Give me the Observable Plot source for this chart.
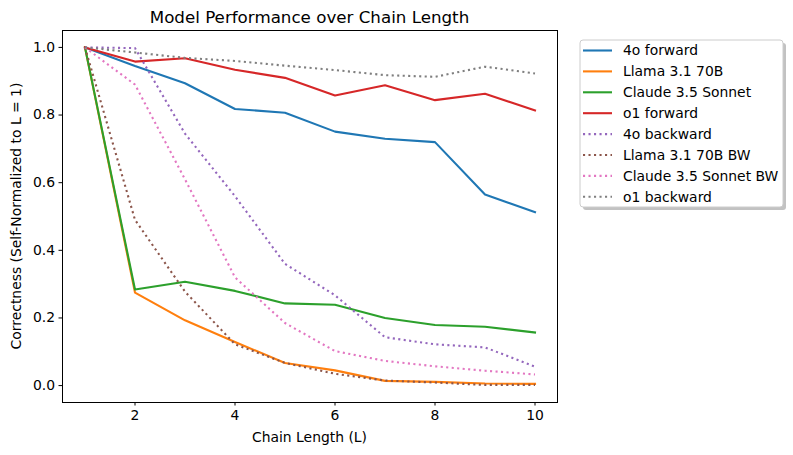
<!DOCTYPE html>
<html><head><meta charset="utf-8">
<script src="https://cdn.jsdelivr.net/npm/d3@7"></script>
<script src="https://cdn.jsdelivr.net/npm/@observablehq/plot@0.6"></script>
<style>body{margin:0;background:#fff;font-family:"DejaVu Sans",sans-serif;}</style>
</head><body><div id="chart"></div>
<script>
const chainLength = [1, 2, 3, 4, 5, 6, 7, 8, 9, 10];
const seriesNames = ["4o forward", "Llama 3.1 70B", "Claude 3.5 Sonnet", "o1 forward", "4o backward", "Llama 3.1 70B BW", "Claude 3.5 Sonnet BW", "o1 backward"];
const gpt4oForward = [1.0, 0.945, 0.894, 0.818, 0.807, 0.751, 0.730, 0.720, 0.565, 0.513];
const llamaForward = [1.0, 0.275, 0.193, 0.129, 0.067, 0.045, 0.014, 0.011, 0.006, 0.005];
const claudeForward = [1.0, 0.284, 0.307, 0.280, 0.243, 0.239, 0.200, 0.179, 0.174, 0.157];
const o1Forward = [1.0, 0.958, 0.968, 0.934, 0.910, 0.858, 0.888, 0.844, 0.863, 0.814];
const gpt4oBackward = [1.0, 0.998, 0.745, 0.560, 0.360, 0.267, 0.143, 0.122, 0.113, 0.056];
const llamaBackward = [1.0, 0.490, 0.278, 0.122, 0.067, 0.035, 0.015, 0.009, 0.002, 0.002];
const claudeBackward = [1.0, 0.890, 0.610, 0.320, 0.185, 0.102, 0.073, 0.057, 0.044, 0.033];
const o1Backward = [1.0, 0.985, 0.969, 0.960, 0.946, 0.933, 0.918, 0.913, 0.943, 0.923];
const yTicks = [0.0, 0.2, 0.4, 0.6, 0.8, 1.0];
const xTicks = [2, 4, 6, 8, 10];

const allSeries = [gpt4oForward, llamaForward, claudeForward, o1Forward, gpt4oBackward, llamaBackward, claudeBackward, o1Backward];
const colors = ["#1f77b4", "#ff7f0e", "#2ca02c", "#d62728", "#9467bd", "#8c564b", "#e377c2", "#7f7f7f"];
const dotted = [false, false, false, false, true, true, true, true];

const rows = [];
allSeries.forEach((vals, i) => vals.forEach((v, j) => rows.push({series: seriesNames[i], x: chainLength[j], y: v})));

const W = 793, H = 455;
const mL = 62, mR = 236, mT = 30, mB = 53;
const LW = 2.1, DASH = "2.1,3.4";
const FS = 13.9;

const marks = [];
seriesNames.forEach((name, i) => {
  marks.push(Plot.line(rows.filter(d => d.series === name), {
    x: "x", y: "y", stroke: colors[i], strokeWidth: LW,
    strokeDasharray: dotted[i] ? DASH : null,
    strokeLinejoin: "round", strokeLinecap: dotted[i] ? "butt" : "square"
  }));
});

const plot = Plot.plot({
  width: W, height: H,
  marginLeft: mL, marginRight: mR, marginTop: mT, marginBottom: mB,
  style: {fontFamily: "DejaVu Sans, sans-serif", fontSize: FS + "px", background: "#fff", color: "#000", overflow: "visible"},
  x: {domain: [0.55, 10.45], ticks: xTicks, tickFormat: d3.format("d"), tickSize: 3.5, tickPadding: 4, label: null},
  y: {domain: [-0.05, 1.05], ticks: yTicks, tickFormat: d3.format(".1f"), tickSize: 3.5, tickPadding: 4, label: null},
  marks: [
    ...marks,
    Plot.frame({stroke: "#000", strokeWidth: 1}),
    Plot.axisX({ticks: xTicks, tickFormat: d3.format("d"), tickSize: 3.5, tickPadding: 4, label: null, fontSize: FS}),
    Plot.axisY({ticks: yTicks, tickFormat: d3.format(".1f"), tickSize: 3.5, tickPadding: 4, label: null, fontSize: FS})
  ]
});
document.getElementById("chart").appendChild(plot);

const svg = d3.select(plot);
const cx = mL + (W - mL - mR) / 2;
svg.append("text").attr("x", cx).attr("y", 23).attr("text-anchor", "middle")
  .attr("font-size", 16.7).attr("fill", "#000").text("Model Performance over Chain Length");
svg.append("text").attr("x", cx).attr("y", 442).attr("text-anchor", "middle")
  .attr("font-size", FS).attr("fill", "#000").text("Chain Length (L)");
svg.append("text").attr("transform", `translate(21,${mT + (H - mT - mB) / 2}) rotate(-90)`).attr("text-anchor", "middle")
  .attr("font-size", FS).attr("fill", "#000").text("Correctness (Self-Normalized to L = 1)");

// legend
const lg = svg.append("g").attr("transform", "translate(580,40)");
lg.append("rect").attr("x", 3).attr("y", 3).attr("width", 203).attr("height", 167).attr("rx", 3).attr("fill", "#999").attr("opacity", 0.6);
lg.append("rect").attr("x", 0).attr("y", 0).attr("width", 203).attr("height", 167).attr("rx", 3).attr("fill", "#fff").attr("stroke", "#ccc");
seriesNames.forEach((name, i) => {
  const yy = 10.5 + i * 20.9;
  lg.append("line").attr("x1", 3).attr("x2", 32).attr("y1", yy).attr("y2", yy)
    .attr("stroke", colors[i]).attr("stroke-width", LW)
    .attr("stroke-dasharray", dotted[i] ? DASH : null);
  lg.append("text").attr("x", 43).attr("y", yy).attr("dy", "0.35em").attr("text-anchor", "start")
    .attr("font-size", FS).attr("fill", "#000").text(name);
});
</script></body></html>
